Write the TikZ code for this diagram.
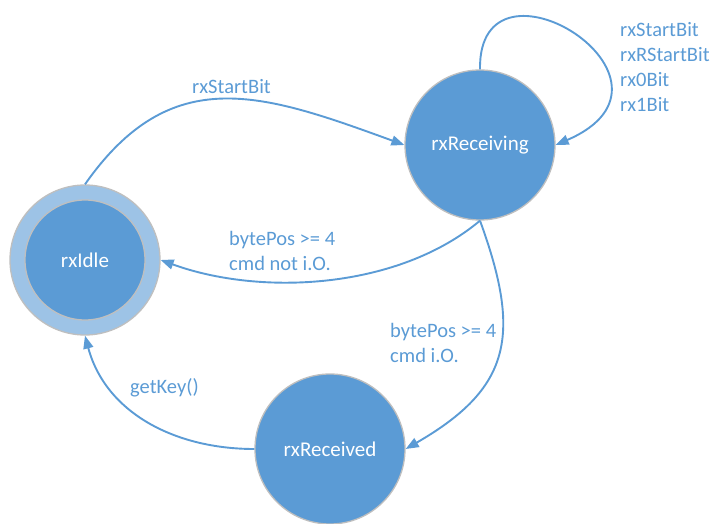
\documentclass[tikz,border=0pt]{standalone}
\usepackage{fontspec}
\setmainfont{Carlito}
\usetikzlibrary{arrows.meta}
\definecolor{stblue}{HTML}{5B9BD5}
\definecolor{ringblue}{HTML}{9DC3E6}
\definecolor{rimgray}{HTML}{BFBFBF}
\begin{document}
\begin{tikzpicture}[x=1pt,y=1pt,
  state/.style={circle,fill=stblue,draw=rimgray,line width=1.3pt,minimum size=150pt,inner sep=0pt,text=white,font=\fontsize{21}{25}\selectfont},
  ring/.style={circle,fill=ringblue,draw=rimgray,line width=1.3pt,minimum size=150pt,inner sep=0pt},
  inner/.style={circle,fill=stblue,draw=rimgray,line width=1.3pt,minimum size=120pt,inner sep=0pt,text=white,font=\fontsize{21}{25}\selectfont},
  trans/.style={draw=stblue,line width=1.9pt,-{Triangle[length=13pt,width=10pt]}},
  lbl/.style={text=stblue,font=\fontsize{20.5}{25}\selectfont,align=left,inner sep=0pt}]
\useasboundingbox (0,0) rectangle (711,523);
\node[ring] (idle) at (85,263) {};
\node[inner] (idlein) at (85,263) {rxIdle};
\node[state] (rcv) at (480,378) {rxReceiving};
\node[state] (rcd) at (330,74) {rxReceived};
\draw[trans] (idle.north) to[out=55,in=160,looseness=1.2] (rcv.west);
\draw[trans] (rcv.north) .. controls +(-2,130) and +(150,65) .. (rcv.east);
\draw[trans] (rcv.south) to[out=220,in=-20,looseness=0.85] (idle.east);
\draw[trans] (rcv.south) to[out=-70,in=30,looseness=1.3] (rcd.east);
\draw[trans] (rcd.west) to[out=180,in=-75] (idle.south);
\node[lbl,anchor=west] (l1) at (192,436) {rxStartBit};
\node[lbl,anchor=west] (l2) at (620,455.5) {rxStartBit\\rxRStartBit\\rx0Bit\\rx1Bit};
\node[lbl,anchor=west] (l3) at (229,272.5) {bytePos >= 4\\cmd not i.O.};
\node[lbl,anchor=west] (l4) at (390,180.5) {bytePos >= 4\\cmd i.O.};
\node[lbl,anchor=west] (l5) at (130,135) {getKey()};
\end{tikzpicture}
\end{document}
